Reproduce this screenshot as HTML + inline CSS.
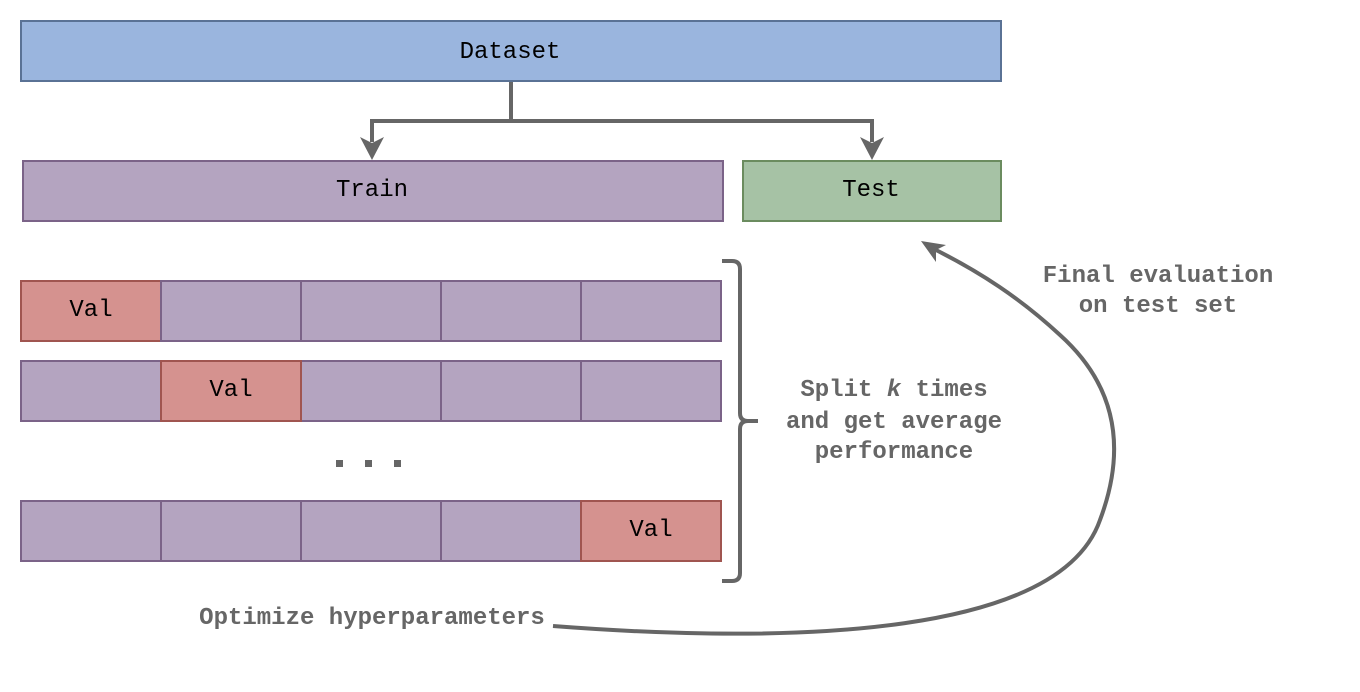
<!DOCTYPE html>
<html><head><meta charset="utf-8"><style>
html,body{margin:0;padding:0;background:#fff;}
svg{display:block;}
text{font-family:"Liberation Mono",monospace;font-size:24px;}
.b{fill:#000;}
.g{fill:#666;font-weight:bold;}
</style></head><body>
<svg width="1360" height="692" viewBox="0 0 1360 692" xmlns="http://www.w3.org/2000/svg">
<rect x="21" y="21" width="980" height="60" fill="#9ab5de" stroke="#5a7295" stroke-width="2"/>
<text class="b" x="510" y="58" text-anchor="middle">Dataset</text>
<path d="M511,82 V121 H372 V142" fill="none" stroke="#666" stroke-width="4"/>
<path d="M511,121 H872 V142" fill="none" stroke="#666" stroke-width="4"/>
<path d="M360,137 L372,160 L384,137 L372,143 Z" fill="#666"/>
<path d="M860,137 L872,160 L884,137 L872,143 Z" fill="#666"/>
<rect x="23" y="161" width="700" height="60" fill="#b4a4c0" stroke="#7b6388" stroke-width="2"/>
<text class="b" x="372" y="196" text-anchor="middle">Train</text>
<rect x="743" y="161" width="258" height="60" fill="#a6c2a5" stroke="#6b8c5f" stroke-width="2"/>
<text class="b" x="871" y="196" text-anchor="middle">Test</text>
<g stroke="#7b6388" stroke-width="2">
<rect x="21" y="281" width="140" height="60" fill="#d5928f" stroke="#a05550"/>
<rect x="161" y="281" width="140" height="60" fill="#b4a4c0"/>
<rect x="301" y="281" width="140" height="60" fill="#b4a4c0"/>
<rect x="441" y="281" width="140" height="60" fill="#b4a4c0"/>
<rect x="581" y="281" width="140" height="60" fill="#b4a4c0"/>
<rect x="21" y="361" width="140" height="60" fill="#b4a4c0"/>
<rect x="301" y="361" width="140" height="60" fill="#b4a4c0"/>
<rect x="441" y="361" width="140" height="60" fill="#b4a4c0"/>
<rect x="581" y="361" width="140" height="60" fill="#b4a4c0"/>
<rect x="161" y="361" width="140" height="60" fill="#d5928f" stroke="#a05550"/>
<rect x="21" y="501" width="140" height="60" fill="#b4a4c0"/>
<rect x="161" y="501" width="140" height="60" fill="#b4a4c0"/>
<rect x="301" y="501" width="140" height="60" fill="#b4a4c0"/>
<rect x="441" y="501" width="140" height="60" fill="#b4a4c0"/>
<rect x="581" y="501" width="140" height="60" fill="#d5928f" stroke="#a05550"/>
</g>
<text class="b" x="91" y="316" text-anchor="middle">Val</text>
<text class="b" x="231" y="396" text-anchor="middle">Val</text>
<text class="b" x="651" y="536" text-anchor="middle">Val</text>
<g fill="#666"><rect x="336" y="460" width="7" height="7"/><rect x="365" y="460" width="7" height="7"/><rect x="394" y="460" width="7" height="7"/></g>
<path d="M722,261 H732 Q740,261 740,269 V413 Q740,421 748,421 H758 M748,421 Q740,421 740,429 V573 Q740,581 732,581 H722" fill="none" stroke="#666" stroke-width="4"/>
<text class="g" x="894" y="396" text-anchor="middle">Split <tspan font-style="italic">k</tspan> times</text>
<text class="g" x="894" y="428" text-anchor="middle">and get average</text>
<text class="g" x="894" y="458" text-anchor="middle">performance</text>
<text class="g" x="1158" y="282" text-anchor="middle">Final evaluation</text>
<text class="g" x="1158" y="312" text-anchor="middle">on test set</text>
<text class="g" x="372" y="624" text-anchor="middle">Optimize hyperparameters</text>
<path d="M553,626 C800,645 1060,635 1100,520 C1130,440 1110,380 1060,335 C1020,298 980,272 934,249" fill="none" stroke="#666" stroke-width="4"/>
<path d="M921,241 L946,245 L936,250 L936,262 Z" fill="#666"/>
</svg>
</body></html>
